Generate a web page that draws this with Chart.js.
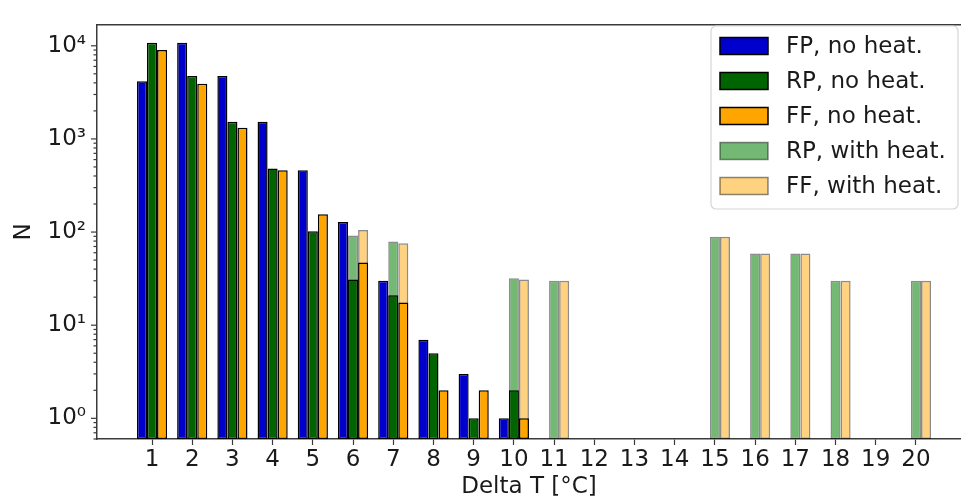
<!DOCTYPE html>
<html>
<head>
<meta charset="utf-8">
<script src="https://cdn.jsdelivr.net/npm/chart.js@4.4.0/dist/chart.umd.min.js"></script>
<style>
  html, body { margin: 0; padding: 0; background: #fff; overflow: hidden; }
  #wrap { width: 961px; height: 501px; position: relative; }
</style>
</head>
<body>
<div id="wrap"><canvas id="chart"></canvas></div>
<script>
// Delta T categories and counts per series (null = no bar)
const deltaT = [1, 2, 3, 4, 5, 6, 7, 8, 9, 10, 11, 12, 13, 14, 15, 16, 17, 18, 19, 20];
const fpNoHeat = [4150, 10800, 4750, 1530, 460, 128, 30, 7, 3, 1, null, null, null, null, null, null, null, null, null, null];
const rpNoHeat = [10800, 4750, 1530, 480, 102, 31, 21, 5, 1, 2, null, null, null, null, null, null, null, null, null, null];
const ffNoHeat = [9000, 3900, 1320, 460, 155, 47, 17.5, 2, 2, 1, null, null, null, null, null, null, null, null, null, null];
const rpWithHeat = [null, null, null, null, null, 92, 79, null, null, 32, 30, null, null, null, 89, 59, 59, 30, null, 30];
const ffWithHeat = [null, null, null, null, null, 105, 76, null, null, 31, 30, null, null, null, 89, 59, 59, 30, null, 30];
const yDecades = [0, 1, 2, 3, 4];

const COLORS = {
  fp: '#0000cd',
  rp: '#006400',
  ff: '#ffa500',
  rpHeat: 'rgba(0, 128, 0, 0.55)',
  ffHeat: 'rgba(255, 165, 0, 0.5)',
  edge: '#000000',
  edgeHeat: 'rgba(0, 0, 0, 0.45)',
  axis: '#3a3a3a',
  text: '#1a1a1a'
};

const SUP = { '0': '⁰', '1': '¹', '2': '²', '3': '³', '4': '⁴', '-': '⁻' };
function powLabel(exp) {
  return '10' + String(exp).split('').map(c => SUP[c]).join('');
}

Chart.defaults.font.family = "'DejaVu Sans', sans-serif";
Chart.defaults.font.size = 23;
Chart.defaults.color = COLORS.text;

function barSet(label, data, stack, fill, edge) {
  return {
    label,
    data,
    stack,
    backgroundColor: fill,
    borderColor: edge,
    borderWidth: 1.5,
    borderSkipped: false,
    categoryPercentage: 0.75,
    barPercentage: 1.0
  };
}

// top spine, y tick marks (major/minor) and the legend box
const decorPlugin = {
  id: 'decor',
  afterDraw(chart) {
    const { ctx, chartArea } = chart;
    const yScale = chart.scales.y;
    ctx.save();
    ctx.strokeStyle = COLORS.axis;
    ctx.lineWidth = 1.5;
    ctx.beginPath();
    ctx.moveTo(chartArea.left, chartArea.top);
    ctx.lineTo(chartArea.right, chartArea.top);
    ctx.stroke();

    ctx.lineWidth = 1.2;
    yScale.ticks.forEach(t => {
      const major = Math.abs(Math.log10(t.value) - Math.round(Math.log10(t.value))) < 1e-9;
      const py = yScale.getPixelForValue(t.value);
      const len = major ? 6 : 3.5;
      ctx.beginPath();
      ctx.moveTo(chartArea.left - len, py);
      ctx.lineTo(chartArea.left, py);
      ctx.stroke();
    });

    // legend
    const bx = 711, by = 26, bw = 247, bh = 183;
    ctx.fillStyle = 'rgba(255,255,255,0.85)';
    ctx.strokeStyle = '#d6d6d6';
    ctx.lineWidth = 1.2;
    ctx.beginPath();
    ctx.roundRect(bx, by, bw, bh, 5);
    ctx.fill();
    ctx.stroke();

    ctx.font = "23px 'DejaVu Sans', sans-serif";
    ctx.textBaseline = 'middle';
    ctx.textAlign = 'left';
    chart.data.datasets.forEach((ds, i) => {
      const cy = by + 20 + i * 35;
      ctx.fillStyle = '#ffffff';
      ctx.fillRect(bx + 9, cy - 8.5, 48, 17);
      ctx.fillStyle = ds.backgroundColor;
      ctx.fillRect(bx + 9, cy - 8.5, 48, 17);
      ctx.strokeStyle = ds.borderColor;
      ctx.lineWidth = 1.5;
      ctx.strokeRect(bx + 9, cy - 8.5, 48, 17);
      ctx.fillStyle = COLORS.text;
      ctx.fillText(ds.label, bx + 75, cy + 1);
    });
    ctx.restore();
  }
};

new Chart(document.getElementById('chart'), {
  type: 'bar',
  data: {
    labels: deltaT,
    datasets: [
      barSet('FP, no heat.', fpNoHeat, 'fp', COLORS.fp, COLORS.edge),
      barSet('RP, no heat.', rpNoHeat, 'rp', COLORS.rp, COLORS.edge),
      barSet('FF, no heat.', ffNoHeat, 'ff', COLORS.ff, COLORS.edge),
      barSet('RP, with heat.', rpWithHeat, 'rp', COLORS.rpHeat, COLORS.edgeHeat),
      barSet('FF, with heat.', ffWithHeat, 'ff', COLORS.ffHeat, COLORS.edgeHeat)
    ]
  },
  options: {
    responsive: true,
    maintainAspectRatio: false,
    animation: false,
    layout: { padding: { top: 14, left: 0, right: 0, bottom: 0 } },
    plugins: {
      legend: { display: false },
      tooltip: { enabled: false }
    },
    scales: {
      x: {
        type: 'linear',
        offset: false,
        min: -0.368,
        max: 21.12,
        grid: { offset: false, drawOnChartArea: false, tickLength: 6, tickWidth: 1.2, tickColor: COLORS.axis },
        border: { color: COLORS.axis, width: 1.5 },
        ticks: { autoSkip: false, maxRotation: 0, padding: 1, color: COLORS.text },
        afterBuildTicks: scale => { scale.ticks = deltaT.map(v => ({ value: v })); },
        afterFit: scale => { scale.height = 62; },
        title: { display: true, text: 'Delta T [°C]', padding: { top: 0, bottom: 0 }, color: COLORS.text }
      },
      y: {
        type: 'logarithmic',
        stacked: false,
        min: 0.63,
        max: 16800,
        grid: { drawOnChartArea: false, drawTicks: false },
        border: { color: COLORS.axis, width: 1.5 },
        ticks: {
          autoSkip: false,
          padding: 11,
          color: COLORS.text,
          callback: value => {
            const e = Math.log10(value);
            return Math.abs(e - Math.round(e)) < 1e-9 ? powLabel(Math.round(e)) : '';
          }
        },
        afterBuildTicks: scale => {
          const ticks = [];
          [-1].concat(yDecades).forEach(d => {
            for (let m = 1; m <= 9; m++) {
              const v = m * Math.pow(10, d);
              if (v >= scale.min && v <= scale.max) ticks.push({ value: v });
            }
          });
          scale.ticks = ticks;
        },
        afterFit: scale => { scale.width = 97; },
        title: { display: true, text: 'N', padding: { top: 10, bottom: 0 }, color: COLORS.text }
      }
    }
  },
  plugins: [decorPlugin]
});
</script>
</body>
</html>
